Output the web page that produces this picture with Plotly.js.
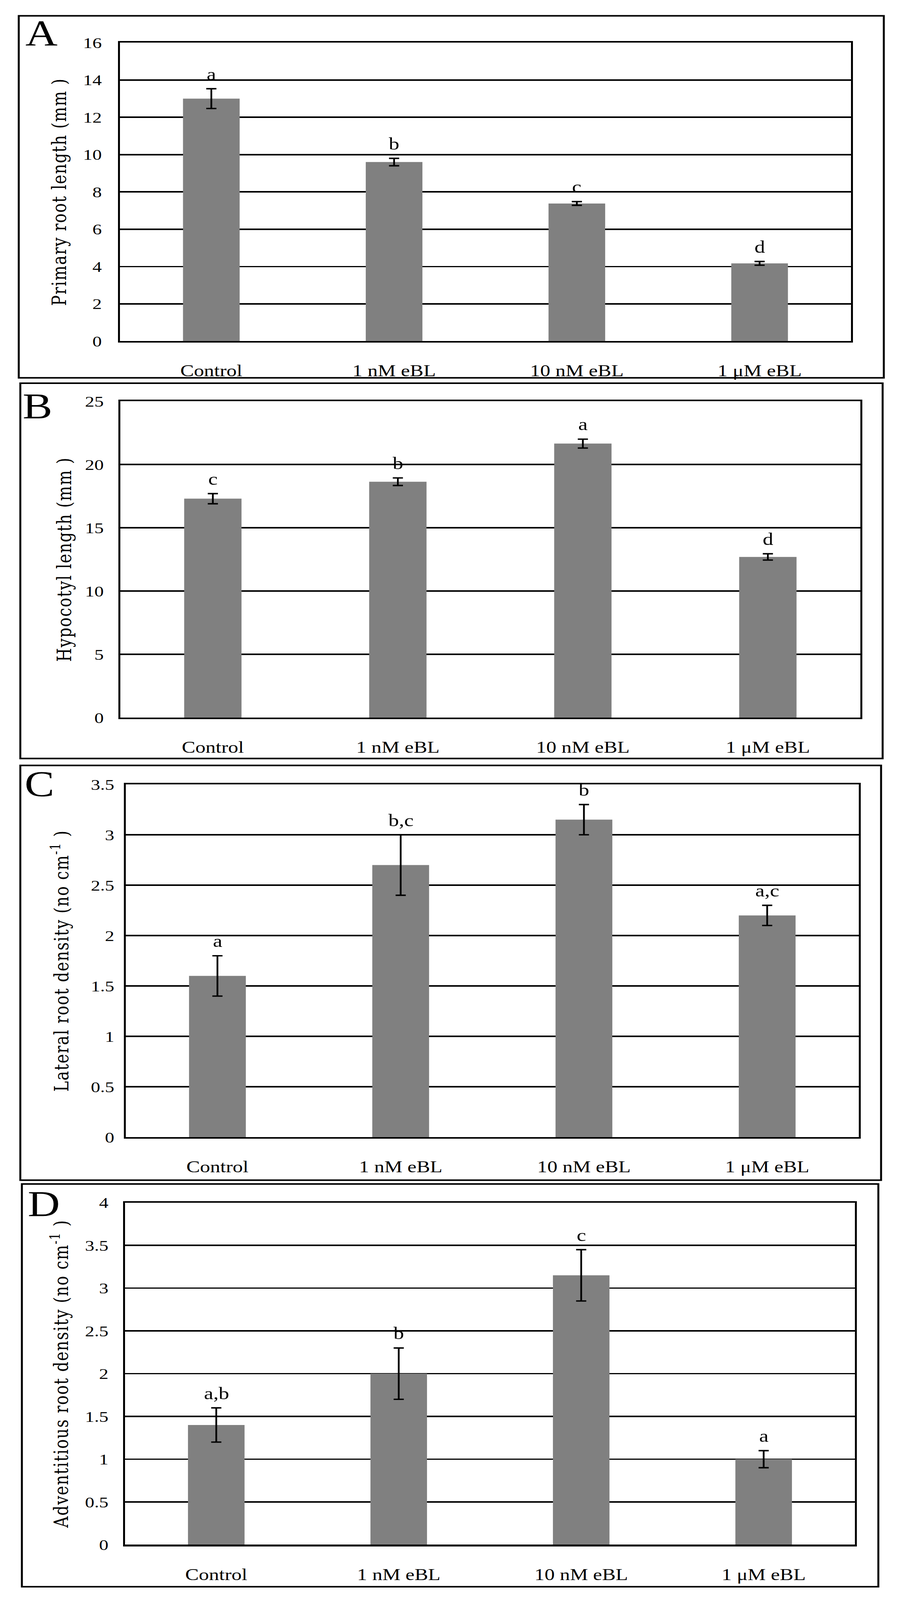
<!DOCTYPE html>
<html>
<head>
<meta charset="utf-8">
<script src="https://cdn.plot.ly/plotly-3.0.1.min.js"></script>
<style>
html,body{margin:0;padding:0;background:#fff;overflow:hidden;}
#chart{width:2306px;height:5065px;transform-origin:0 0;}
g[class^="g-y"] text{letter-spacing:2.2px;}
</style>
</head>
<body>
<div id="chart"></div>
<script>
// ---- data ----
var categories = ['Control', '1 nM eBL', '10 nM eBL', '1 \u03BCM eBL'];

var primaryRoot = [13.0, 9.6, 7.38, 4.17];
var primaryRootErr = [0.53, 0.2, 0.1, 0.1];
var primaryRootLetters = ['a', 'b', 'c', 'd'];

var hypocotyl = [17.3, 18.64, 21.65, 12.7];
var hypocotylErr = [0.4, 0.3, 0.35, 0.25];
var hypocotylLetters = ['c', 'b', 'a', 'd'];

var lateralDensity = [1.6, 2.7, 3.15, 2.2];
var lateralDensityErr = [0.2, 0.3, 0.15, 0.1];
var lateralDensityLetters = ['a', 'b,c', 'b', 'a,c'];

var adventDensity = [1.4, 2.0, 3.15, 1.0];
var adventDensityErr = [0.2, 0.3, 0.3, 0.1];
var adventDensityLetters = ['a,b', 'b', 'c', 'a'];

var panelLabels = ['A', 'B', 'C', 'D'];
var yTitles = ['Primary root length (mm )', 'Hypocotyl length (mm )',
               'Lateral root density (no cm<sup>-1</sup> )', 'Adventitious root density (no cm<sup>-1</sup> )'];
var yRanges = [[0, 16], [0, 25], [0, 3.5], [0, 4]];
var yDtick = [2, 5, 0.5, 0.5];

// ---- layout geometry (pixels) ----
var W = 2306, H = 5065;
var plotPx = [ // x0, x1, y0(top), y1(bottom)
  [307, 2178, 135, 1080],
  [308, 2202, 1270, 2272],
  [322, 2198, 2483, 3600],
  [320, 2188, 3807, 4890]
];
var boxPx = [
  [48, 2262, 50, 1196],
  [52, 2259, 1213, 2401],
  [52, 2255, 2423, 3736],
  [56, 2248, 3748, 5023]
];
var letterPx = [[106, 106], [96, 1286], [101, 2481], [112, 3810]];
var tickStandoff = [32, 28, 15, 28];
var titleStandoff = [28, 20, 42, 28];

// fit the full figure into the window if the window is shorter than the figure
var chartDiv = document.getElementById('chart');
if (window.innerHeight && window.innerHeight < H) {
  chartDiv.style.transform = 'scale(1,' + (window.innerHeight / H) + ')';
}

var values = [primaryRoot, hypocotyl, lateralDensity, adventDensity];
var errs = [primaryRootErr, hypocotylErr, lateralDensityErr, adventDensityErr];
var letters = [primaryRootLetters, hypocotylLetters, lateralDensityLetters, adventDensityLetters];

var serif = 'Liberation Serif, Times New Roman, serif';
var titleFont = 'DejaVu Serif';

var traces = [];
var layout = {
  width: W, height: H,
  margin: {l: 0, r: 0, t: 0, b: 0},
  paper_bgcolor: '#ffffff',
  plot_bgcolor: '#ffffff',
  showlegend: false,
  bargap: 0.69,
  shapes: [],
  annotations: []
};

for (var i = 0; i < 4; i++) {
  var sfx = i === 0 ? '' : String(i + 1);
  var xa = 'x' + sfx, ya = 'y' + sfx;
  traces.push({
    type: 'bar',
    x: categories,
    y: values[i],
    xaxis: xa, yaxis: ya,
    marker: {color: '#808080', line: {width: 0}},
    error_y: {type: 'data', array: errs[i], visible: true, color: '#000000', thickness: 4.5, width: 13},
    hoverinfo: 'x+y'
  });
  var p = plotPx[i];
  layout['xaxis' + sfx] = {
    domain: [p[0] / W, p[1] / W],
    anchor: ya,
    type: 'category',
    showgrid: false,
    showline: true, mirror: true, linecolor: '#000000', linewidth: 5,
    ticks: '',
    ticklabelstandoff: 44,
    tickfont: {family: serif, size: 52, color: '#000000'},
    fixedrange: true
  };
  layout['yaxis' + sfx] = {
    domain: [1 - p[3] / H, 1 - p[2] / H],
    anchor: xa,
    range: yRanges[i],
    dtick: yDtick[i],
    tick0: 0,
    showgrid: true, gridcolor: '#000000', gridwidth: 4.5,
    zeroline: false,
    showline: true, mirror: true, linecolor: '#000000', linewidth: 5,
    ticks: '',
    ticklabelstandoff: tickStandoff[i],
    tickfont: {family: serif, size: 48, color: '#000000'},
    title: {text: yTitles[i], font: {family: titleFont, size: 50, color: '#000000'}, standoff: titleStandoff[i]},
    fixedrange: true
  };
  var b = boxPx[i];
  layout.shapes.push({
    type: 'rect', xref: 'paper', yref: 'paper',
    x0: b[0] / W, x1: b[1] / W, y0: 1 - b[3] / H, y1: 1 - b[2] / H,
    line: {color: '#000000', width: 5}, fillcolor: 'rgba(0,0,0,0)', layer: 'below'
  });
  layout.annotations.push({
    xref: 'paper', yref: 'paper',
    x: letterPx[i][0] / W, y: 1 - letterPx[i][1] / H,
    xanchor: 'center', yanchor: 'middle',
    text: panelLabels[i], showarrow: false,
    font: {family: serif, size: 114, color: '#000000'}
  });
  for (var j = 0; j < categories.length; j++) {
    layout.annotations.push({
      xref: xa, yref: ya,
      x: categories[j], y: values[i][j] + errs[i][j],
      xanchor: 'center', yanchor: 'bottom', yshift: 14,
      text: letters[i][j], showarrow: false,
      font: {family: serif, size: 54, color: '#000000'}
    });
  }
}

Plotly.newPlot('chart', traces, layout, {staticPlot: true, displayModeBar: false});
</script>
</body>
</html>
